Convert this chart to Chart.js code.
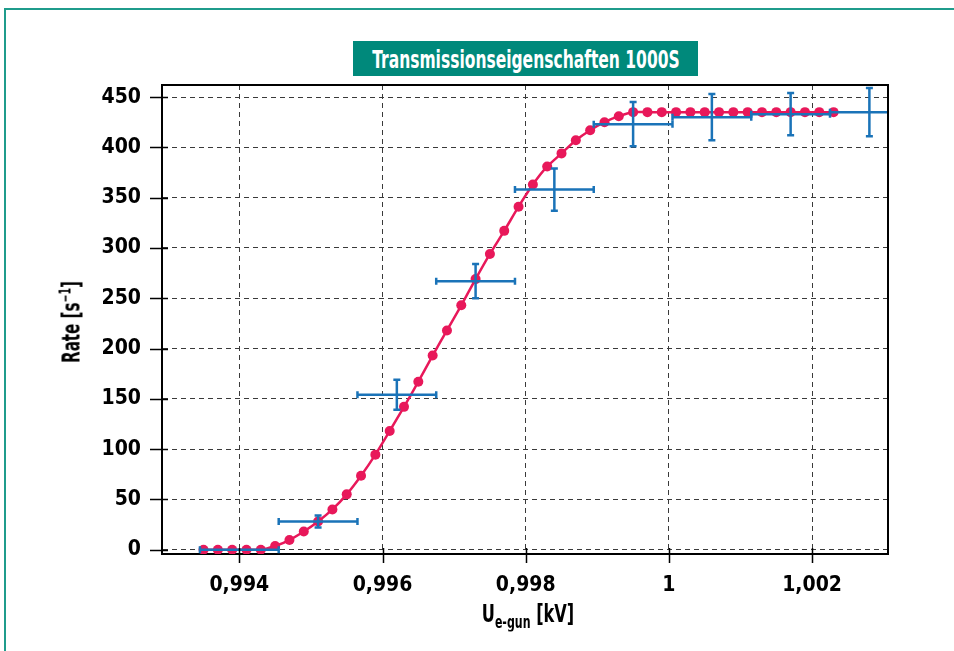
<!DOCTYPE html>
<html>
<head>
<meta charset="utf-8">
<script src="https://cdn.jsdelivr.net/npm/chart.js@4/dist/chart.umd.min.js"></script>
<style>
  html, body { margin:0; padding:0; background:#fff; overflow:hidden; }
  #wrap { position:relative; width:954px; height:651px; overflow:hidden; }
  #frame { position:absolute; left:4px; top:8px; width:1200px; height:1200px;
           border-left:2px solid #1f9c8c; border-top:2px solid #1f9c8c; }
  #cv { position:absolute; left:0; top:0; }
  .lbl { position:absolute; font-family:'Liberation Sans Narrow','DejaVu Sans Condensed','Roboto Condensed',sans-serif;
         font-weight:bold; color:#000; white-space:nowrap; }
  #title { left:353px; top:41px; width:345px; height:35px; background:#00897b; color:#fff; font-size:25px; overflow:hidden; }
  #title span { position:absolute; left:50%; top:50%; transform:translate(-50%,-50%) scaleX(0.69); white-space:nowrap; }
  #ytitle { left:71px; top:322px; font-size:24px; transform:translate(-50%,-50%) rotate(-90deg) scaleX(0.7); }
  #xtitle { left:528px; top:615px; font-size:25px; transform:translate(-50%,-50%) scaleX(0.72); }
  #xtitle sub { font-size:17px; vertical-align:-6px; }
  #ytitle sup { font-size:15px; vertical-align:9px; }
</style>
</head>
<body>
<div id="wrap">
  <div id="frame"></div>
  <canvas id="cv" width="954" height="651"></canvas>
  <div id="title" class="lbl"><span>Transmissionseigenschaften 1000S</span></div>
  <div id="ytitle" class="lbl">Rate [s<sup>−1</sup>]</div>
  <div id="xtitle" class="lbl">U<sub>e-gun</sub> [kV]</div>
</div>
<script>
// ---- data ----
const redX = [0.9935,0.9937,0.9939,0.9941,0.9943,0.9945,0.9947,0.9949,0.9951,0.9953,
              0.9955,0.9957,0.9959,0.9961,0.9963,0.9965,0.9967,0.9969,0.9971,0.9973,
              0.9975,0.9977,0.9979,0.9981,0.9983,0.9985,0.9987,0.9989,0.9991,0.9993,
              0.9995,0.9997,0.9999,1.0001,1.0003,1.0005,1.0007,1.0009,1.0011,1.0013,
              1.0015,1.0017,1.0019,1.0021,1.0023];
const redY = [0,0,0,0,0,3.7,9.6,18,28,40,
              55,73.5,94.5,118,142,167,193,218,243,269,
              294,317,341,363,381,394,407,417,425,431,
              435,435,435,435,435,435,435,435,435,435,
              435,435,435,435,435];
const blueX    = [0.9940,0.9951,0.9962,0.9973,0.9984,0.9995,1.0006,1.0017,1.0028];
const blueY    = [0,28,154,267,358,423,430,433,435];
const blueXErr = [0.00055,0.00055,0.00055,0.00055,0.00055,0.00055,0.00055,0.00055,0.00055];
const blueYErr = [0,6,15,17,21,22,23,21,24];
const xTickValues = [0.994,0.996,0.998,1.000,1.002];
const xTickLabels = ['0,994','0,996','0,998','1','1,002'];
const yTickValues = [0,50,100,150,200,250,300,350,400,450];
const yTickLabels = ['0','50','100','150','200','250','300','350','400','450'];

const FONT = "'Liberation Sans Narrow','DejaVu Sans Condensed',sans-serif";
const RED = '#e8185a';
const BLUE = '#1a73b8';

const errorBars = {
  id:'errorBars',
  afterDatasetsDraw(chart){
    const {ctx, chartArea:a, scales:{x,y}} = chart;
    ctx.save();
    ctx.beginPath(); ctx.rect(a.left, a.top, a.right-a.left, a.bottom-a.top); ctx.clip();
    ctx.strokeStyle = BLUE; ctx.lineWidth = 2.5; ctx.lineCap = 'butt';
    const cap = 3.5;
    blueX.forEach((bx,i)=>{
      const cx = x.getPixelForValue(bx), cy = y.getPixelForValue(blueY[i]);
      const x1 = x.getPixelForValue(bx-blueXErr[i]), x2 = x.getPixelForValue(bx+blueXErr[i]);
      ctx.beginPath(); ctx.moveTo(x1,cy); ctx.lineTo(x2,cy);
      ctx.moveTo(x1,cy-cap); ctx.lineTo(x1,cy+cap);
      ctx.moveTo(x2,cy-cap); ctx.lineTo(x2,cy+cap);
      if (blueYErr[i] > 0) {
        const y1 = y.getPixelForValue(blueY[i]-blueYErr[i]), y2 = y.getPixelForValue(blueY[i]+blueYErr[i]);
        ctx.moveTo(cx,y1); ctx.lineTo(cx,y2);
        ctx.moveTo(cx-cap,y1); ctx.lineTo(cx+cap,y1);
        ctx.moveTo(cx-cap,y2); ctx.lineTo(cx+cap,y2);
      }
      ctx.stroke();
    });
    ctx.restore();
  },
  afterDraw(chart){
    const {ctx, chartArea:a, scales:{x,y}} = chart;
    ctx.save();
    ctx.strokeStyle = '#000'; ctx.lineWidth = 2;
    ctx.beginPath();
    ctx.moveTo(a.left, a.top); ctx.lineTo(a.right, a.top); ctx.lineTo(a.right, a.bottom);
    ctx.stroke();
    ctx.lineWidth = 1.5;
    ctx.beginPath();
    yTickValues.forEach(v=>{ const p = Math.round(y.getPixelForValue(v))+0.5; ctx.moveTo(a.left-12,p); ctx.lineTo(a.left+6,p); });
    xTickValues.forEach(v=>{ const p = Math.round(x.getPixelForValue(v))+0.5; ctx.moveTo(p,a.bottom-6); ctx.lineTo(p,a.bottom+9); });
    ctx.stroke();
    ctx.restore();
  }
};

new Chart(document.getElementById('cv'), {
  type:'line',
  data:{
    datasets:[
      { label:'Simulation', data: redX.map((v,i)=>({x:v,y:redY[i]})),
        borderColor:RED, backgroundColor:RED, borderWidth:2.5, pointRadius:5,
        pointBorderWidth:0, tension:0.2, fill:false },
      { label:'Messung', data: blueX.map((v,i)=>({x:v,y:blueY[i]})),
        showLine:false, pointRadius:0, borderColor:BLUE, backgroundColor:BLUE }
    ]
  },
  options:{
    responsive:false, animation:false, devicePixelRatio:1,
    layout:{ padding:{ left:0, top:85, right:66, bottom:0 } },
    plugins:{ legend:{display:false}, title:{display:false}, tooltip:{enabled:false} },
    scales:{
      x:{ type:'linear', position:'bottom', min:0.99292, max:1.00306,
          afterBuildTicks: s => { s.ticks = xTickValues.map(v=>({value:v})); },
          afterFit: s => { s.height = 97; },
          grid:{ color:'#3a3a3a', lineWidth:1, drawTicks:false },
          border:{ display:true, color:'#000', width:2, dash:[5,4] },
          ticks:{ padding:19, color:'#000', maxRotation:0, autoSkip:false,
                  font:{ family:FONT, weight:'bold', size:21 },
                  callback: v => { const i = xTickValues.findIndex(t=>Math.abs(t-v)<1e-9); return i>=0 ? xTickLabels[i] : ''; } } },
      y:{ type:'linear', position:'left', min:-4.3, max:462,
          afterBuildTicks: s => { s.ticks = yTickValues.map(v=>({value:v})); },
          afterFit: s => { s.width = 162; },
          grid:{ color:'#3a3a3a', lineWidth:1, drawTicks:false },
          border:{ display:true, color:'#000', width:2, dash:[5,4] },
          ticks:{ padding:21, color:'#000', autoSkip:false,
                  font:{ family:FONT, weight:'bold', size:21 },
                  callback: v => { const i = yTickValues.indexOf(v); return i>=0 ? yTickLabels[i] : ''; } } }
    }
  },
  plugins:[errorBars]
});
</script>
</body>
</html>
